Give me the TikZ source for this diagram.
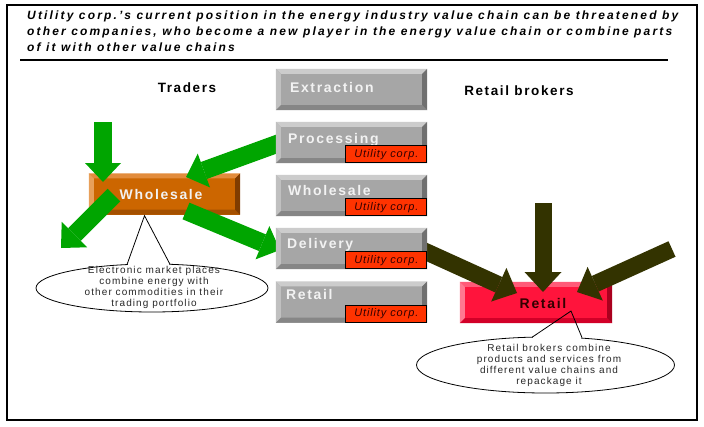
\documentclass[tikz,border=0pt]{standalone}
\usepackage{fontspec}
\setmainfont{Liberation Sans}
\newfontfamily\titlefont[LetterSpace=18]{Liberation Sans}
\newfontfamily\labelfont[LetterSpace=12]{Liberation Sans}
\newfontfamily\notefont[LetterSpace=11]{Liberation Sans}
\newfontfamily\tagfont[LetterSpace=8]{Liberation Sans}
\usetikzlibrary{arrows.meta,calc,shapes.geometric}

\definecolor{grayface}{RGB}{166,166,166}
\definecolor{graytop}{RGB}{204,204,204}
\definecolor{grayleft}{RGB}{192,192,192}
\definecolor{graybottom}{RGB}{134,134,134}
\definecolor{grayright}{RGB}{112,112,112}
\definecolor{orgface}{RGB}{204,102,0}
\definecolor{orgtop}{RGB}{226,140,60}
\definecolor{orgleft}{RGB}{232,160,90}
\definecolor{orgbottom}{RGB}{164,80,0}
\definecolor{orgright}{RGB}{128,60,0}
\definecolor{redface}{RGB}{255,20,60}
\definecolor{redtop}{RGB}{255,90,120}
\definecolor{redleft}{RGB}{255,120,145}
\definecolor{redbottom}{RGB}{210,0,40}
\definecolor{redright}{RGB}{170,0,30}
\definecolor{tagfill}{RGB}{255,51,0}
\definecolor{tagtext}{RGB}{51,0,0}
\definecolor{arrgreen}{RGB}{0,165,0}
\definecolor{arrolive}{RGB}{51,51,0}
\definecolor{notetext}{RGB}{40,40,40}

% bevelled edges around a rectangular node: name, top, left, bottom, right, depth
\newcommand{\bevelrim}[6]{%
  \fill[#2] (#1.north west) -- (#1.north east) -- ($(#1.north east)+(-#6,#6)$) -- ($(#1.north west)+(#6,#6)$) -- cycle;
  \fill[#3] (#1.north west) -- ($(#1.north west)+(#6,#6)$) -- ($(#1.south west)+(#6,-#6)$) -- (#1.south west) -- cycle;
  \fill[#4] (#1.south west) -- ($(#1.south west)+(#6,-#6)$) -- ($(#1.south east)+(-#6,-#6)$) -- (#1.south east) -- cycle;
  \fill[#5] (#1.north east) -- (#1.south east) -- ($(#1.south east)+(-#6,-#6)$) -- ($(#1.north east)+(-#6,#6)$) -- cycle;
}

\tikzset{
  chainbox/.style={rectangle, fill=grayface, inner sep=0pt, minimum width=151pt, minimum height=41pt},
  chainlabel/.style={anchor=base west, inner sep=0pt, text=white!95!black, font=\labelfont\bfseries\fontsize{14}{16}\selectfont},
  tag/.style={rectangle, draw=black, line width=0.8pt, fill=tagfill, inner sep=0pt, minimum width=81pt, minimum height=17pt, anchor=south east, text=tagtext, font=\tagfont\itshape\fontsize{11}{13}\selectfont},
  playerbox/.style={rectangle, inner sep=0pt, minimum width=151pt, minimum height=41pt},
  heading/.style={anchor=base west, inner sep=0pt, font=\titlefont\bfseries\itshape\fontsize{12}{14}\selectfont},
  sidelabel/.style={inner sep=0pt, font=\labelfont\bfseries\fontsize{13.5}{15}\selectfont},
  greenarrow/.style={draw=arrgreen, line width=18pt, -{Triangle[width=36pt,length=19pt,line width=0pt]}},
  olivearrow/.style={draw=arrolive, line width=17pt, -{Triangle[width=37pt,length=20pt,line width=0pt]}},
  note/.style={ellipse, draw=black, line width=0.8pt, fill=white, inner sep=0pt},
  notetxt/.style={align=center, inner sep=0pt, text=notetext, font=\notefont\fontsize{10}{11.2}\selectfont},
  pointer/.style={draw=black, line width=0.8pt},
}

\begin{document}
\begin{tikzpicture}[x=1pt,y=-1pt]
\useasboundingbox (0,0) rectangle (704,426);
\fill[white] (0,0) rectangle (704,426);

% frame and heading
\draw[line width=1.4pt] (7,5) rectangle (697,420);
\node[heading] (h1) at (27,19) {Utility corp.’s current position in the energy industry value chain can be threatened by};
\node[heading] (h2) at (27,35) {other companies, who become a new player in the energy value chain or combine parts};
\node[heading] (h3) at (27,51) {of it with other value chains};
\draw[line width=1.2pt] (20,60) -- (668,60);

\node[sidelabel] (traders) at (187,88) {Traders};
\node[sidelabel] (brokers) at (519,91) {Retail brokers};

% new players
\node[playerbox, fill=orgface] (trade) at (164.5,194) {};
\bevelrim{trade}{orgtop}{orgleft}{orgbottom}{orgright}{5}
\node[font=\labelfont\bfseries\fontsize{14}{16}\selectfont, text=white!95!black] (tradetxt) at (161,194) {Wholesale};

\node[playerbox, fill=redface, minimum width=152pt] (broker) at (536,302.5) {};
\bevelrim{broker}{redtop}{redleft}{redbottom}{redright}{5}
\node[font=\labelfont\bfseries\fontsize{14}{16}\selectfont, text=tagtext] (brokertxt) at (543,303) {Retail};

% arrow end points
\coordinate (g1a) at (103,122);  \coordinate (g1b) at (103,182);
\coordinate (g2a) at (285,141);  \coordinate (g2b) at (186,177);
\coordinate (g3a) at (114,195);  \coordinate (g3b) at (61,248);
\coordinate (g4a) at (186,211);  \coordinate (g4b) at (280,250);
\coordinate (o1a) at (420,249);  \coordinate (o1b) at (517,293);
\coordinate (o2a) at (543,203);  \coordinate (o2b) at (543,292);
\coordinate (o3a) at (672,249);  \coordinate (o3b) at (577,292);

\draw[greenarrow] (g1a) -- (g1b);
\draw[greenarrow] (g2a) -- (g2b);
\draw[greenarrow] (g3a) -- (g3b);
\draw[greenarrow] (g4a) -- (g4b);
\draw[olivearrow] (o1a) -- (o1b);
\draw[olivearrow] (o2a) -- (o2b);
\draw[olivearrow] (o3a) -- (o3b);

% value chain of the utility
\node[chainbox] (extr) at (351.5,89.5) {};
\node[chainbox] (proc) at (351.5,142.5) {};
\node[chainbox] (whol) at (351.5,195.5) {};
\node[chainbox] (deli) at (351.5,248.5) {};
\node[chainbox] (reta) at (351.5,302) {};
\foreach \b in {extr,proc,whol,deli,reta}{
  \bevelrim{\b}{graytop}{grayleft}{graybottom}{grayright}{5}
}
\node[chainlabel] (extrtxt) at ($(extr.north west)+(14,24)$) {Extraction};
\node[chainlabel] (proctxt) at ($(proc.north west)+(12,22)$) {Processing};
\node[chainlabel] (wholtxt) at ($(whol.north west)+(12,21)$) {Wholesale};
\node[chainlabel] (delitxt) at ($(deli.north west)+(11,21)$) {Delivery};
\node[chainlabel] (retatxt) at ($(reta.north west)+(10,18)$) {Retail};
\foreach \b in {proc,whol,deli,reta}{
  \node[tag] (\b tag) at (\b.south east) {Utility corp.};
}

% callouts
\node[note, minimum width=232pt, minimum height=48pt] (tradenote) at (152,288) {};
\coordinate (tp) at ($(trade.south)+(-20,1)$);
\coordinate (tb1) at (127,264.6);
\coordinate (tb2) at (170,264.3);
\fill[white] ($(tb1)+(0.8,1.2)$) -- ($(tb2)+(-0.8,1.2)$) -- ($(tb2)+(-0.8,-3)$) -- ($(tb1)+(0.8,-3)$) -- cycle;
\draw[pointer] (tb1) -- (tp) -- (tb2);
\node[notetxt] (tradenotetxt) at (154,287.5) {Electronic market places\\combine energy with\\other commodities in their\\trading portfolio};

\node[note, minimum width=258pt, minimum height=56pt] (brokernote) at (545.5,365) {};
\coordinate (bp) at (571,311);
\coordinate (bb1) at (532,337.3);
\coordinate (bb2) at (582,337.6);
\fill[white] ($(bb1)+(0.8,1.2)$) -- ($(bb2)+(-0.8,1.2)$) -- ($(bb2)+(-0.8,-3)$) -- ($(bb1)+(0.8,-3)$) -- cycle;
\draw[pointer] (bb1) -- (bp) -- (bb2);
\node[notetxt] (brokernotetxt) at (549,365.5) {Retail brokers combine\\products and services from\\different value chains and\\repackage it};
\end{tikzpicture}
\end{document}
